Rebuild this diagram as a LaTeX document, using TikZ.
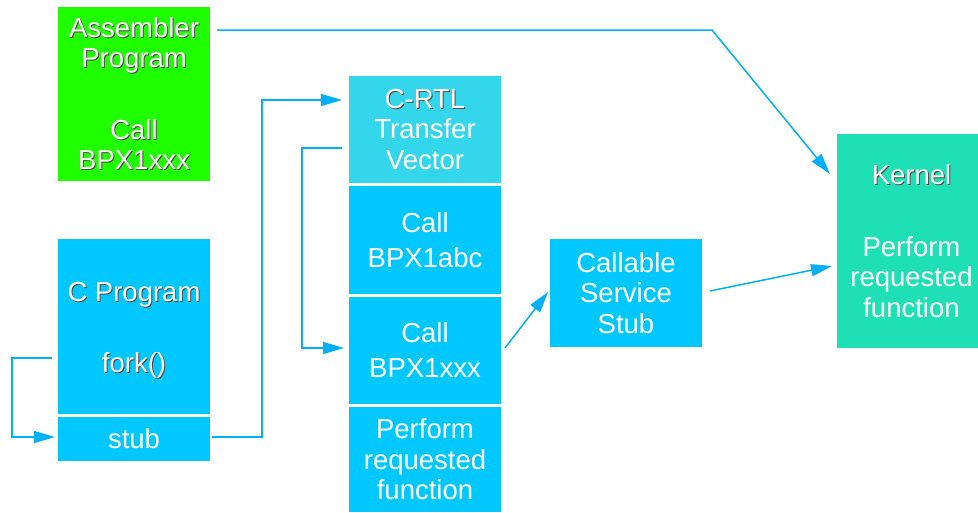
\documentclass[tikz,border=0pt]{standalone}
\usepackage{fontspec}
\setmainfont{Liberation Sans}
\usetikzlibrary{arrows.meta}

\definecolor{asmgreen}{RGB}{32,255,0}
\definecolor{boxcyan}{RGB}{0,200,255}
\definecolor{vecteal}{RGB}{52,214,235}
\definecolor{kerngreen}{RGB}{30,224,180}
\definecolor{wire}{RGB}{0,176,250}

% white text with a small dark drop shadow
\newcommand\shd[1]{\leavevmode\rlap{\kern1pt\raisebox{-1pt}{\color{black!70}#1}}#1}

\begin{document}
\begin{tikzpicture}[x=1pt,y=-1pt,
  blk/.style={rectangle, inner sep=0pt, outer sep=0pt, text=white, align=center,
    font=\fontsize{27.5}{30.5}\selectfont},
  lbl/.style={inner sep=0pt, text=white, align=center,
    font=\fontsize{27.5}{30.5}\selectfont},
  wirepath/.style={draw=wire, line width=1.5pt,
    -{Triangle[length=21pt,width=12pt]}}]

\useasboundingbox (0,0) rectangle (978,512);

% program boxes on the left
\node[blk, fill=asmgreen, minimum width=152pt, minimum height=174pt] (asm) at (134,94)
  {\shd{Assembler}\\\shd{Program}\\[41pt]\shd{Call}\\\shd{BPX1xxx}};
\node[blk, fill=boxcyan, minimum width=152pt, minimum height=175pt] (cprog) at (134,326.5) {};
\node[lbl] (cprogtext) at ([yshift=-4pt]cprog.center)
  {\shd{C Program}\\[41pt]\shd{fork()}};
\node[blk, fill=boxcyan, minimum width=152pt, minimum height=44pt] (stub) at (134,439)
  {stub};

% C run-time library column
\node[blk, fill=vecteal, minimum width=152pt, minimum height=107pt] (crtl) at (425,129.5)
  {\shd{C-RTL}\\Transfer\\Vector};
\node[blk, fill=boxcyan, minimum width=152pt, minimum height=108pt] (abc) at (425,240)
  {Call\\[4.5pt]BPX1abc};
\node[blk, fill=boxcyan, minimum width=152pt, minimum height=107pt] (bpx) at (425,350.5)
  {Call\\[4.5pt]BPX1xxx};
\node[blk, fill=boxcyan, minimum width=152pt, minimum height=105pt] (perf) at (425,459.5)
  {Perform\\requested\\function};

% service stub and kernel
\node[blk, fill=boxcyan, minimum width=152pt, minimum height=108pt] (css) at (626,293)
  {Callable\\Service\\Stub};
\node[blk, fill=kerngreen, minimum width=141pt, minimum height=214pt] (kernel) at (907.5,241) {};
\node[lbl] (kerneltext) at ([xshift=4pt]kernel.center)
  {\shd{Kernel}\\[41pt]Perform\\requested\\function};

\coordinate (asmbend) at (712,30);

% connectors
\draw[wirepath] ([shift={(7pt,-23pt)}]asm.north east) -- (asmbend)
  -- ([shift={(-7pt,-40pt)}]kernel.north west);
\draw[wirepath] ([xshift=2pt,yshift=2pt]stub.east) -- ++(50,0)
  |- ([shift={(-7pt,-24pt)}]crtl.north west);
\draw[wirepath] ([shift={(-7pt,-18.5pt)}]crtl.west) -- ++(-40,0)
  |- ([xshift=-5pt,yshift=2.5pt]bpx.west);
\draw[wirepath] ([shift={(-6pt,-31.5pt)}]cprog.west) -- ++(-40,0)
  |- ([xshift=-3pt,yshift=2pt]stub.west);
\draw[wirepath] ([xshift=4pt,yshift=2.5pt]bpx.east) -- ([xshift=-2pt,yshift=1pt]css.west);
\draw[wirepath] ([xshift=8pt,yshift=2pt]css.east) -- ([shift={(-5pt,-25pt)}]kernel.west);

\end{tikzpicture}
\end{document}
